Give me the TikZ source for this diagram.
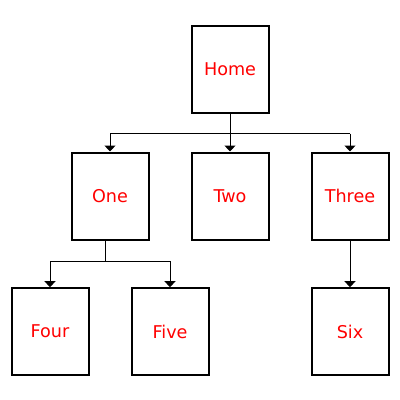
\documentclass[tikz,border=0pt]{standalone}
\usepackage{fontspec}
\setmainfont{DejaVu Sans}
\usetikzlibrary{arrows.meta}
\begin{document}
\begin{tikzpicture}[x=0.75pt,y=-0.75pt,
  pagebox/.style={draw=black,line width=1.5pt,fill=white,minimum width=57.75pt,minimum height=65.25pt,inner sep=0pt,text=red,font=\fontsize{13.2}{16}\selectfont},
  conn/.style={draw=black,line width=0.75pt},
  arr/.style={conn,-{Triangle[width=8.25pt,length=4.5pt]}}]
\useasboundingbox (0,0) rectangle (400,400);
\node[pagebox] (home) at (230,69.7) {Home};
\node[pagebox] (one) at (110,196) {One};
\node[pagebox] (two) at (230,196) {Two};
\node[pagebox] (three) at (350,196) {Three};
\node[pagebox] (four) at (50,331.7) {Four};
\node[pagebox] (five) at (170,331.7) {Five};
\node[pagebox] (six) at (350,331.7) {Six};
% Home connectors
\coordinate (hbar) at (230,133.5);
\draw[conn] (home.south) -- (hbar);
\draw[conn] (one.north |- hbar) -- (three.north |- hbar);
\draw[arr] (one.north |- hbar) -- (one.north);
\draw[arr] (hbar) -- (two.north);
\draw[arr] (three.north |- hbar) -- (three.north);
% One connectors
\coordinate (otop) at (105.5,240);
\coordinate (obar) at (105.5,261);
\draw[conn] (otop) -- (obar);
\draw[conn] (four.north |- obar) -- (five.north |- obar);
\draw[arr] (four.north |- obar) -- (four.north);
\draw[arr] (five.north |- obar) -- (five.north);
% Three connector
\draw[arr] (three.south) -- (six.north);
\end{tikzpicture}
\end{document}
